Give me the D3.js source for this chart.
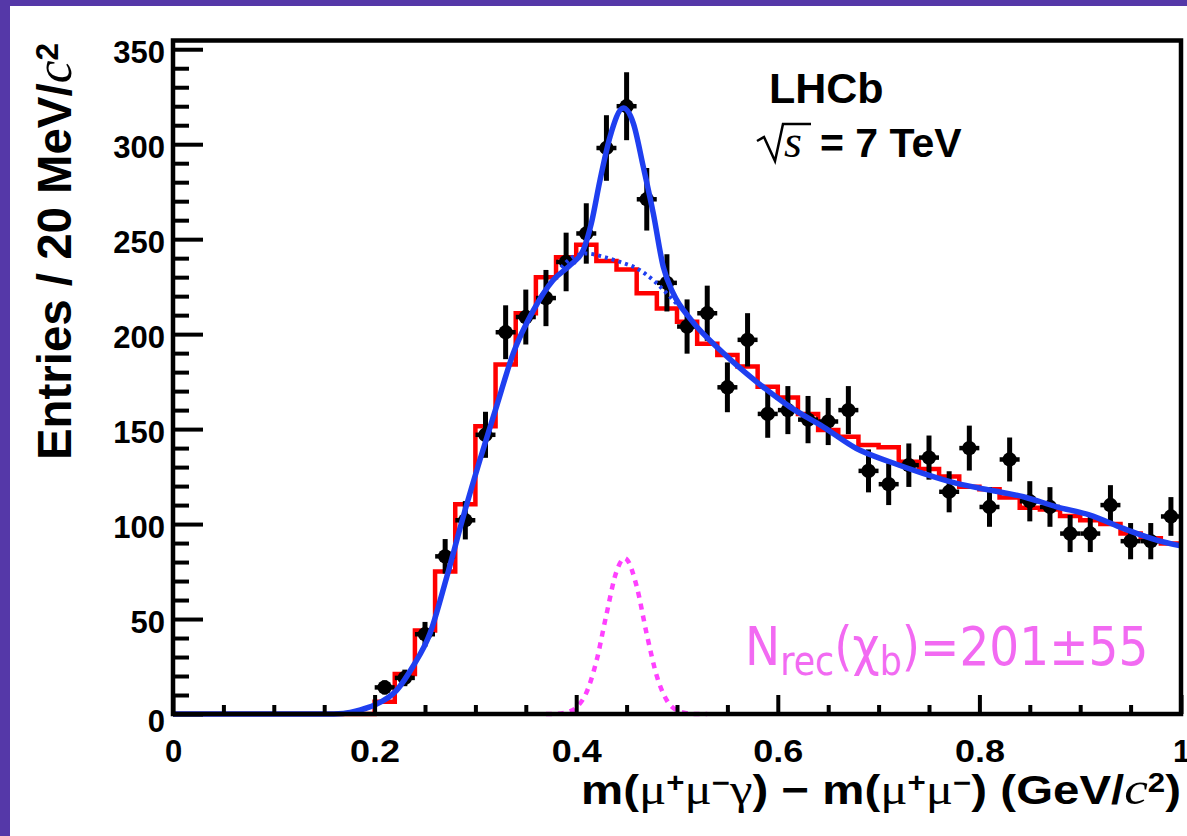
<!DOCTYPE html>
<html>
<head>
<meta charset="utf-8">
<script src="https://cdn.jsdelivr.net/npm/d3@7/dist/d3.min.js"></script>
<style>
  body { margin: 0; background: #fff; }
</style>
</head>
<body>
<svg id="chart" width="1187" height="836" style="font-family: 'Liberation Sans', Arial, Helvetica, sans-serif; font-weight: bold;"></svg>
<script>
// -----------
// DATOS
// -----------
// data points: bin centres (20 MeV bins) and entries
const dataX = [0.21, 0.23, 0.25, 0.27, 0.29, 0.31, 0.33, 0.35, 0.37, 0.39,
  0.41, 0.43, 0.45, 0.47, 0.49, 0.51, 0.53, 0.55, 0.57, 0.59,
  0.61, 0.63, 0.65, 0.67, 0.69, 0.71, 0.73, 0.75, 0.77, 0.79,
  0.81, 0.83, 0.85, 0.87, 0.89, 0.91, 0.93, 0.95, 0.97, 0.99];
const dataY = [14, 19, 42, 83, 102, 147, 201, 209, 219, 238,
  253, 298, 320, 271, 227, 204, 211, 172, 197, 158,
  160, 155, 154, 160, 128, 121, 131, 135, 117, 140,
  109, 134, 112, 109, 95, 95, 110, 91, 91, 104];

// red histogram (background template): left bin edges and contents
const histEdges = [0.00, 0.02, 0.04, 0.06, 0.08, 0.10, 0.12, 0.14, 0.16, 0.18,
  0.20, 0.22, 0.24, 0.26, 0.28, 0.30, 0.32, 0.34, 0.36, 0.38,
  0.40, 0.42, 0.44, 0.46, 0.48, 0.50, 0.52, 0.54, 0.56, 0.58,
  0.60, 0.62, 0.64, 0.66, 0.68, 0.70, 0.72, 0.74, 0.76, 0.78,
  0.80, 0.82, 0.84, 0.86, 0.88, 0.90, 0.92, 0.94, 0.96, 0.98];
const histVals = [0, 0, 0, 0, 0, 0, 0, 0, 0, 0,
  6.5, 21, 44, 75, 110.5, 151.5, 184, 211, 230, 240.5,
  247, 238.5, 234, 221.5, 213.5, 206.5, 195, 189, 183, 172.3,
  166.7, 158, 149.5, 146, 141.6, 140.4, 132.8, 129, 125, 119.6,
  118.3, 114, 108.6, 107.7, 104.2, 102, 100, 95, 92.5, 89.8];

// total fit (blue solid)
const fitX = [0, 0.15, 0.169, 0.185, 0.2, 0.222, 0.238, 0.255, 0.2715, 0.288,
  0.3046, 0.321, 0.3376, 0.3575, 0.377, 0.394, 0.407, 0.415, 0.4236, 0.4335,
  0.4467, 0.4567, 0.4666, 0.4765, 0.4864, 0.4963, 0.514, 0.544, 0.579, 0.612,
  0.645, 0.678, 0.711, 0.744, 0.7775, 0.8105, 0.8436, 0.8767, 0.9097, 0.9428,
  0.9759, 1.0];
const fitY = [0, 0, 0.3, 2, 4.7, 12.6, 25, 42.5, 72, 104,
  134, 162, 190, 212.5, 228.4, 236.3, 244.2, 258.3, 281, 303.8,
  319, 311, 288, 263.5, 235.4, 221.4, 207.5, 191, 174.9, 161.7,
  151.2, 139.8, 132.8, 126.7, 121.4, 117.9, 114.4, 109.1, 104.7, 97.7,
  91.6, 88.5];

// background component (blue dotted), only visible under the peak
const bkgX = [0.385, 0.397, 0.41, 0.427, 0.4435, 0.46, 0.4765, 0.49, 0.4997, 0.51];
const bkgY = [235, 240.7, 242.5, 240.7, 238, 234.6, 228.4, 221.4, 216, 211];

// signal component (magenta dotted)
const sigX = [0.37, 0.38, 0.39, 0.40, 0.41, 0.42, 0.43, 0.44, 0.448, 0.45,
  0.46, 0.47, 0.48, 0.49, 0.50, 0.51, 0.52, 0.53];
const sigY = [0, 0.1, 0.8, 3.4, 11.1, 27.7, 52.4, 75.1, 82, 81.5,
  67.2, 42, 19.9, 7.1, 1.9, 0.4, 0, 0];

const yTicks = [0, 50, 100, 150, 200, 250, 300, 350];
const yTickLabels = ['0', '50', '100', '150', '200', '250', '300', '350'];
const xTicks = [0, 0.2, 0.4, 0.6, 0.8, 1.0];
const xTickLabels = ['0', '0.2', '0.4', '0.6', '0.8', '1'];

const SANS = "'Liberation Sans', Arial, Helvetica, sans-serif";
const SERIF = "'Liberation Serif', 'Times New Roman', serif";

// -----------
// GRAFICA
// -----------
const W = 1187, H = 836;
const svg = d3.select('#chart');

// purple slide border (top and left)
svg.append('rect').attr('width', W).attr('height', H).attr('fill', '#5538a8');
svg.append('rect').attr('x', 10).attr('y', 6).attr('width', W - 10).attr('height', H - 6).attr('fill', '#fff');

const x = d3.scaleLinear().domain([0, 1]).range([173, 1181]);
const y = d3.scaleLinear().domain([0, 354.6]).range([714, 40.5]);

const line = d3.line().x((d) => x(d[0])).y((d) => y(d[1]));

// red histogram
const histPts = [[0, 0]].concat(histEdges.map((e, i) => [e, histVals[i]]));
histPts.push([1.0, histVals[histVals.length - 1]]);
svg.append('path')
  .attr('d', line.curve(d3.curveStepAfter)(histPts))
  .attr('fill', 'none')
  .attr('stroke', '#ff0000')
  .attr('stroke-width', 4.5);

// data points with sqrt(N) errors
const pts = svg.append('g');
dataX.forEach((cx, i) => {
  const v = dataY[i];
  const e = Math.sqrt(v);
  pts.append('line')
    .attr('x1', x(cx)).attr('x2', x(cx))
    .attr('y1', y(v - e)).attr('y2', y(v + e))
    .attr('stroke', '#000').attr('stroke-width', 5);
  pts.append('line')
    .attr('x1', x(cx) - 10).attr('x2', x(cx) + 10)
    .attr('y1', y(v)).attr('y2', y(v))
    .attr('stroke', '#000').attr('stroke-width', 4.5);
  pts.append('circle')
    .attr('cx', x(cx)).attr('cy', y(v)).attr('r', 7.2)
    .attr('fill', '#000');
});

const smooth = d3.line().x((d) => x(d[0])).y((d) => y(d[1])).curve(d3.curveMonotoneX);

// background (dotted blue)
svg.append('path')
  .attr('d', smooth(bkgX.map((v, i) => [v, bkgY[i]])))
  .attr('fill', 'none')
  .attr('stroke', '#1f3ff0')
  .attr('stroke-width', 4)
  .attr('stroke-dasharray', '3,4');

// total fit (solid blue)
svg.append('path')
  .attr('d', smooth(fitX.map((v, i) => [v, fitY[i]])))
  .attr('fill', 'none')
  .attr('stroke', '#1f3ff0')
  .attr('stroke-width', 5.5)
  .attr('stroke-linejoin', 'round');

// signal (dotted magenta)
svg.append('path')
  .attr('d', smooth(sigX.map((v, i) => [v, sigY[i]])))
  .attr('fill', 'none')
  .attr('stroke', '#ff40ff')
  .attr('stroke-width', 4.5)
  .attr('stroke-dasharray', '6,6');

// -----------
// EJES
// -----------
const yAxis = svg.append('g')
  .attr('transform', `translate(${x(0)},0)`)
  .call(d3.axisLeft(y).tickValues(yTicks).tickSize(-30).tickSizeOuter(0).tickPadding(8)
    .tickFormat((d, i) => yTickLabels[i]));
yAxis.select('.domain').remove();
yAxis.attr('font-size', 31).attr('font-family', SANS);
yAxis.selectAll('line').attr('stroke', '#000').attr('stroke-width', 4);
yAxis.selectAll('text').attr('fill', '#000').attr('dy', (d) => (d === 0 ? '0.55em' : '0.42em'));

const yMinor = svg.append('g')
  .attr('transform', `translate(${x(0)},0)`)
  .call(d3.axisLeft(y).tickValues(d3.range(0, 355, 10).filter((v) => v % 50 !== 0))
    .tickSize(-16).tickSizeOuter(0).tickFormat(''));
yMinor.select('.domain').remove();
yMinor.selectAll('line').attr('stroke', '#000').attr('stroke-width', 4);

const xAxis = svg.append('g')
  .attr('transform', `translate(0,${y(0)})`)
  .call(d3.axisBottom(x).tickValues(xTicks).tickSize(-19).tickSizeOuter(0).tickPadding(26)
    .tickFormat((d, i) => xTickLabels[i]));
xAxis.select('.domain').remove();
xAxis.attr('font-size', 31).attr('font-family', SANS);
xAxis.selectAll('line').attr('stroke', '#000').attr('stroke-width', 4);
xAxis.selectAll('text').attr('fill', '#000')
  .each(function (d, i) {
    if (xTickLabels[i].length > 1) {
      d3.select(this).attr('textLength', 50).attr('lengthAdjust', 'spacingAndGlyphs');
    }
  });

const xMinor = svg.append('g')
  .attr('transform', `translate(0,${y(0)})`)
  .call(d3.axisBottom(x).tickValues(d3.range(0.05, 1, 0.05).filter((v) => Math.abs(v * 5 - Math.round(v * 5)) > 1e-6))
    .tickSize(-9).tickSizeOuter(0).tickFormat(''));
xMinor.select('.domain').remove();
xMinor.selectAll('line').attr('stroke', '#000').attr('stroke-width', 4);

// frame
svg.append('rect')
  .attr('x', x(0)).attr('y', y(354.6))
  .attr('width', x(1) - x(0)).attr('height', y(0) - y(354.6))
  .attr('fill', 'none')
  .attr('stroke', '#000')
  .attr('stroke-width', 4.5);

// -----------
// TEXTOS
// -----------
// y title
const yTitle = svg.append('text')
  .attr('transform', 'translate(71,460) rotate(-90)')
  .attr('font-size', 48)
  .attr('textLength', 417)
  .attr('lengthAdjust', 'spacingAndGlyphs')
  .attr('fill', '#000');
yTitle.append('tspan').text('Entries / 20 MeV/');
yTitle.append('tspan').attr('font-family', SERIF).attr('font-style', 'italic').attr('font-weight', 'normal').attr('font-size', 52).text('c');
yTitle.append('tspan').attr('font-size', 32).attr('baseline-shift', '40%').text('2');

// x title
const xTitle = svg.append('text')
  .attr('x', 1181).attr('y', 804)
  .attr('text-anchor', 'end')
  .attr('font-size', 41)
  .attr('textLength', 600)
  .attr('lengthAdjust', 'spacingAndGlyphs')
  .attr('fill', '#000');
const greek = (t) => xTitle.append('tspan').attr('font-family', SERIF).attr('font-weight', 'normal').attr('font-size', 44).text(t);
const sup = (t) => xTitle.append('tspan').attr('font-size', 27).attr('baseline-shift', '45%').text(t);
const norm = (t) => xTitle.append('tspan').text(t);
norm('m(');
greek('μ'); sup('+'); greek('μ'); sup('−'); greek('γ');
norm(') − m(');
greek('μ'); sup('+'); greek('μ'); sup('−');
norm(') (GeV/');
xTitle.append('tspan').attr('font-family', SERIF).attr('font-style', 'italic').attr('font-weight', 'normal').attr('font-size', 46).text('c');
sup('2');
norm(')');

// LHCb label
svg.append('text')
  .attr('x', 769).attr('y', 103)
  .attr('font-size', 43)
  .attr('fill', '#000')
  .text('LHCb');

// sqrt(s) = 7 TeV
svg.append('path')
  .attr('d', 'M757,141 L764,137 L775,161 L783,124 L811,124')
  .attr('fill', 'none')
  .attr('stroke', '#000')
  .attr('stroke-width', 2.5);
svg.append('text')
  .attr('x', 784).attr('y', 157)
  .attr('font-family', SERIF)
  .attr('font-style', 'italic')
  .attr('font-weight', 'normal')
  .attr('font-size', 46)
  .attr('fill', '#000')
  .text('s');
svg.append('text')
  .attr('x', 820).attr('y', 157)
  .attr('font-size', 41)
  .attr('fill', '#000')
  .text('= 7 TeV');

// signal yield (condensed horizontally like the original)
const nText = svg.append('text')
  .attr('transform', 'translate(745,665) scale(0.87,1)')
  .attr('font-size', 54)
  .attr('fill', '#f26af2')
  .attr('font-family', "'DejaVu Sans', sans-serif")
  .attr('font-weight', 'normal');
nText.append('tspan').text('N');
nText.append('tspan').attr('font-size', 40).attr('baseline-shift', '-25%').text('rec');
nText.append('tspan').text('(χ');
nText.append('tspan').attr('font-size', 40).attr('baseline-shift', '-25%').text('b');
nText.append('tspan').text(')=201±55');
</script>
</body>
</html>
